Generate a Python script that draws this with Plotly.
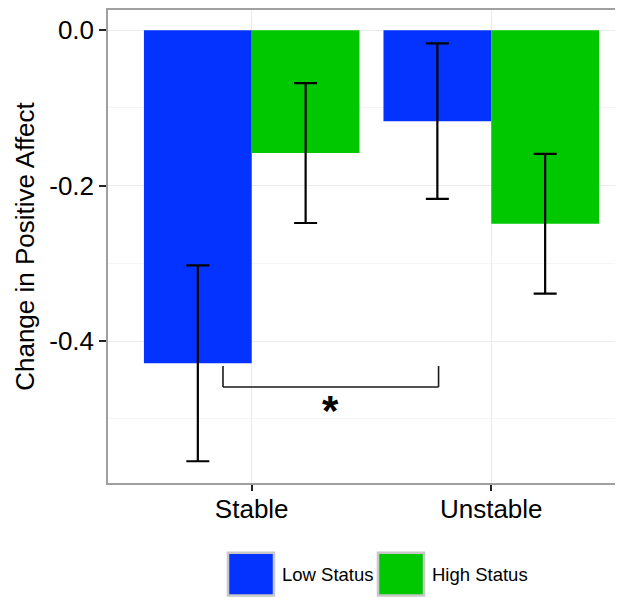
import plotly.graph_objects as go

# ---- data ----
conditions = ["Stable", "Unstable"]
low_status = [-0.4285, -0.117]
low_status_err = [0.126, 0.100]
high_status = [-0.158, -0.249]
high_status_err = [0.090, 0.090]
series_names = ["Low Status", "High Status"]
y_ticks = [0.0, -0.2, -0.4]
y_tick_labels = ["0.0", "-0.2", "-0.4"]
sig_label = "*"

BLUE = "#0433FF"
GREEN = "#00C800"

# page body has an 8px default margin; reference pixel coords are shifted by OFF
OFF = 8
W, H = 623 - OFF, 598 - OFF
ML, MR, MT, MB = 108 - OFF, 0, 0, 598 - 483
PW = W - ML - MR
PH = H - MT - MB


def px(x):
    return (x - OFF - ML) / PW


def py(y):
    return (H - MB - (y - OFF)) / PH


FONT = "Liberation Sans, Arial, Helvetica, sans-serif"

fig = go.Figure()
fig.add_trace(go.Bar(
    x=conditions, y=low_status, name=series_names[0],
    marker=dict(color=BLUE, line=dict(width=0)),
    error_y=dict(type="data", array=low_status_err, color="black", thickness=2.2, width=11.5),
    showlegend=False,
))
fig.add_trace(go.Bar(
    x=conditions, y=high_status, name=series_names[1],
    marker=dict(color=GREEN, line=dict(width=0)),
    error_y=dict(type="data", array=high_status_err, color="black", thickness=2.2, width=11.5),
    showlegend=False,
))

shapes = []
# significance bracket (category axis: Stable=0, Unstable=1)
bx0, bx1, by_top, by_bot = -0.12, 0.78, -0.432, -0.459
line_style = dict(color="#1a1a1a", width=1.6)
shapes.append(dict(type="line", xref="x", yref="y", x0=bx0, x1=bx0, y0=by_top, y1=by_bot, line=line_style))
shapes.append(dict(type="line", xref="x", yref="y", x0=bx0, x1=bx1, y0=by_bot, y1=by_bot, line=line_style))
shapes.append(dict(type="line", xref="x", yref="y", x0=bx1, x1=bx1, y0=by_top, y1=by_bot, line=line_style))

# legend keys (manual, ggplot-style)
keys = [(228, 274, BLUE), (378, 424, GREEN)]
for x0, x1, col in keys:
    shapes.append(dict(type="rect", xref="paper", yref="paper",
                       x0=px(x0), x1=px(x1), y0=py(596), y1=py(553),
                       fillcolor=col, line=dict(color="#C8C8C8", width=2.5), layer="above"))

annotations = [
    dict(x=0.33, y=-0.489, xref="x", yref="y", text="<b>" + sig_label + "</b>", showarrow=False,
         font=dict(family=FONT, size=42, color="black"), xanchor="center", yanchor="middle"),
    dict(x=px(280), y=py(575), xref="paper", yref="paper", text=series_names[0], showarrow=False,
         font=dict(family=FONT, size=18.5, color="black"), xanchor="left", yanchor="middle"),
    dict(x=px(430), y=py(575), xref="paper", yref="paper", text=series_names[1], showarrow=False,
         font=dict(family=FONT, size=18.5, color="black"), xanchor="left", yanchor="middle"),
]

fig.update_layout(
    width=W, height=H,
    margin=dict(l=ML, r=MR, t=MT, b=MB),
    paper_bgcolor="white", plot_bgcolor="white",
    barmode="group", bargap=0.1, bargroupgap=0,
    font=dict(family=FONT, color="black"),
    shapes=shapes, annotations=annotations,
    showlegend=False,
)
fig.update_xaxes(
    range=[0.4 - 1, 2.55 - 1], type="category",
    showline=True, linecolor="#A0A0A0", linewidth=1.5, mirror=True,
    showgrid=True, gridcolor="#EBEBEB", gridwidth=1.2,
    ticks="outside", ticklen=6, tickwidth=2, tickcolor="#222",
    tickfont=dict(size=26, color="black"), ticklabelstandoff=-4,
    zeroline=False,
)
fig.update_yaxes(
    range=[-0.5825, 0.026],
    tickvals=y_ticks, ticktext=y_tick_labels,
    showline=True, linecolor="#A0A0A0", linewidth=1.5, mirror=False,
    showgrid=True, gridcolor="#EBEBEB", gridwidth=1.2,
    minor=dict(dtick=0.1, tick0=0, showgrid=True, gridcolor="#F5F5F5", gridwidth=1.2),
    ticks="outside", ticklen=7, tickwidth=2, tickcolor="#222",
    tickfont=dict(size=26, color="black"),
    title=dict(text="Change in Positive Affect", font=dict(size=26, color="black"), standoff=7),
    zeroline=False,
)

fig.write_html("out.html")
